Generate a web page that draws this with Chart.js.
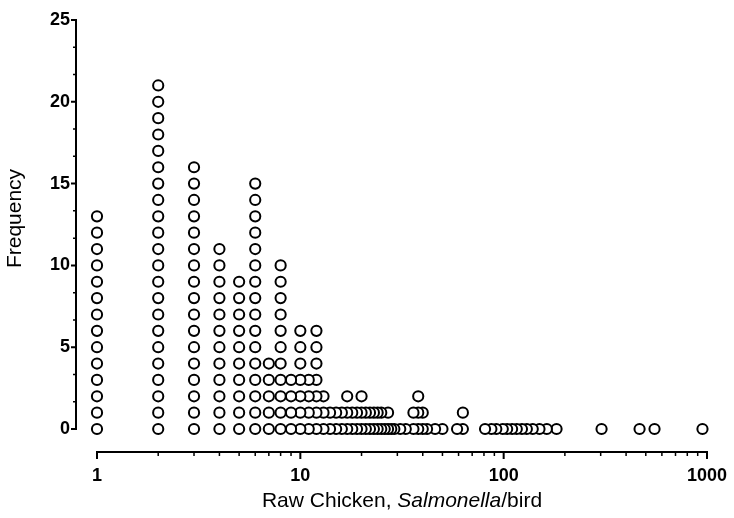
<!DOCTYPE html>
<html>
<head>
<meta charset="utf-8">
<script src="https://cdn.jsdelivr.net/npm/chart.js@4/dist/chart.umd.min.js"></script>
<style>
  html, body { margin: 0; padding: 0; background: #fff; }
  #wrap { width: 734px; height: 518px; }
</style>
</head>
<body>
<div id="wrap"><canvas id="c" width="734" height="518"></canvas></div>
<script>
// Salmonella per bird (raw chicken) and how many birds carried each count
const birdValues = [1, 2, 3, 4, 5, 6, 7, 8, 9, 10, 11, 12, 13, 14, 15, 16, 17, 18, 19, 20,
  21, 22, 23, 24, 25, 26, 27, 28, 29, 31, 33, 36, 38, 40, 42, 46, 50,
  59, 63, 81, 87, 92, 99, 104, 110, 116, 123, 130, 139, 150, 163, 182,
  303, 466, 552, 950];
const birdCounts = [14, 22, 17, 12, 10, 16, 5, 11, 4, 7, 4, 7, 3, 2, 2, 2, 3, 2, 2, 3,
  2, 2, 2, 2, 2, 1, 2, 1, 1, 1, 1, 2, 3, 2, 1, 1, 1,
  1, 2, 1, 1, 1, 1, 1, 1, 1, 1, 1, 1, 1, 1, 1,
  1, 1, 1, 1];

const xTickValues = [1, 10, 100, 1000];
const yTickValues = [0, 5, 10, 15, 20, 25];
const yTitle = 'Frequency';
const xTitleParts = [
  { text: 'Raw Chicken, ', style: 'normal' },
  { text: 'Salmonella', style: 'italic' },
  { text: '/bird', style: 'normal' }
];

const FONT = "'Liberation Sans', Arial, Helvetica, sans-serif";
const TITLE_SIZE = 21;

// one dot per bird, stacked upward in each column; columns are added from the
// right so every dot is painted over the right-hand neighbour it touches
const dots = [];
for (let i = birdValues.length - 1; i >= 0; i--) {
  for (let k = 0; k < birdCounts[i]; k++) dots.push({ x: birdValues[i], y: k });
}

// axes drawn a little away from the plotting region, with major and minor ticks
const detachedAxes = {
  id: 'detachedAxes',
  afterDraw(chart) {
    const { ctx, chartArea, scales } = chart;
    const xs = scales.x, ys = scales.y;
    const axisX = chartArea.left - 21;
    const axisY = chartArea.bottom + 23;
    ctx.save();
    ctx.strokeStyle = '#000';
    ctx.lineWidth = 2;
    ctx.lineCap = 'butt';

    // vertical axis
    const yTop = ys.getPixelForValue(yTickValues[yTickValues.length - 1]);
    const yBot = ys.getPixelForValue(yTickValues[0]);
    ctx.beginPath();
    ctx.moveTo(axisX, yTop - 1);
    ctx.lineTo(axisX, yBot + 1);
    ctx.stroke();
    ctx.beginPath();
    yTickValues.forEach(v => {
      const p = ys.getPixelForValue(v);
      ctx.moveTo(axisX - 5, p);
      ctx.lineTo(axisX, p);
    });
    ctx.stroke();
    ctx.lineWidth = 1.5;
    ctx.beginPath();
    for (let i = 0; i < yTickValues.length - 1; i++) {
      const step = (yTickValues[i + 1] - yTickValues[i]) / 3;
      for (let j = 1; j < 3; j++) {
        const p = ys.getPixelForValue(yTickValues[i] + step * j);
        ctx.moveTo(axisX - 3, p);
        ctx.lineTo(axisX, p);
      }
    }
    ctx.stroke();

    // horizontal axis
    const xL = xs.getPixelForValue(xTickValues[0]);
    const xR = xs.getPixelForValue(xTickValues[xTickValues.length - 1]);
    ctx.lineWidth = 2;
    ctx.beginPath();
    ctx.moveTo(xL - 1, axisY);
    ctx.lineTo(xR + 1, axisY);
    ctx.stroke();
    ctx.beginPath();
    xTickValues.forEach(v => {
      const p = xs.getPixelForValue(v);
      ctx.moveTo(p, axisY);
      ctx.lineTo(p, axisY + 7);
    });
    ctx.stroke();
    ctx.lineWidth = 1.5;
    ctx.beginPath();
    for (let i = 0; i < xTickValues.length - 1; i++) {
      for (let m = 2; m <= 9; m++) {
        const p = xs.getPixelForValue(xTickValues[i] * m);
        ctx.moveTo(p, axisY);
        ctx.lineTo(p, axisY + 4);
      }
    }
    ctx.stroke();

    // axis titles
    ctx.fillStyle = '#000';
    ctx.font = TITLE_SIZE + 'px ' + FONT;
    ctx.save();
    ctx.translate(15, (chartArea.top + chartArea.bottom) / 2 - 6);
    ctx.rotate(-Math.PI / 2);
    ctx.textAlign = 'center';
    ctx.textBaseline = 'middle';
    ctx.fillText(yTitle, 0, 0);
    ctx.restore();

    ctx.textBaseline = 'middle';
    ctx.textAlign = 'left';
    let total = 0;
    xTitleParts.forEach(part => {
      ctx.font = part.style + ' ' + TITLE_SIZE + 'px ' + FONT;
      part.w = ctx.measureText(part.text).width;
      total += part.w;
    });
    let cx = (chartArea.left + chartArea.right) / 2 - total / 2;
    const ty = chartArea.bottom + 72;
    xTitleParts.forEach(part => {
      ctx.font = part.style + ' ' + TITLE_SIZE + 'px ' + FONT;
      ctx.fillText(part.text, cx, ty);
      cx += part.w;
    });
    ctx.restore();
  }
};

new Chart(document.getElementById('c'), {
  type: 'scatter',
  data: {
    datasets: [{
      data: dots,
      pointStyle: 'circle',
      pointRadius: 5.1,
      pointHoverRadius: 5.1,
      pointBorderWidth: 2,
      pointBorderColor: '#000',
      pointBackgroundColor: '#fff',
      clip: false
    }]
  },
  options: {
    responsive: false,
    animation: false,
    devicePixelRatio: 1,
    layout: { padding: { left: 0, right: 27, top: 20, bottom: 0 } },
    plugins: { legend: { display: false }, tooltip: { enabled: false } },
    scales: {
      x: {
        type: 'logarithmic',
        min: 1,
        max: 1000,
        grid: { display: false, drawTicks: false },
        border: { display: false },
        afterBuildTicks(scale) { scale.ticks = xTickValues.map(v => ({ value: v })); },
        afterFit(scale) {
          scale.height = 89;
          scale.paddingLeft = 0;
          scale.paddingRight = 0;
        },
        ticks: {
          padding: 36,
          color: '#000',
          font: { family: FONT, size: 18, weight: 'bold' },
          maxRotation: 0,
          autoSkip: false,
          callback: v => String(v)
        }
      },
      y: {
        min: 0,
        max: 25,
        grid: { display: false, drawTicks: false },
        border: { display: false },
        afterBuildTicks(scale) { scale.ticks = yTickValues.map(v => ({ value: v })); },
        afterFit(scale) {
          scale.width = 97;
          scale.paddingTop = 0;
          scale.paddingBottom = 0;
        },
        ticks: {
          padding: 27,
          color: '#000',
          font: { family: FONT, size: 18, weight: 'bold' },
          callback: v => String(v)
        }
      }
    }
  },
  plugins: [detachedAxes]
});
</script>
</body>
</html>
